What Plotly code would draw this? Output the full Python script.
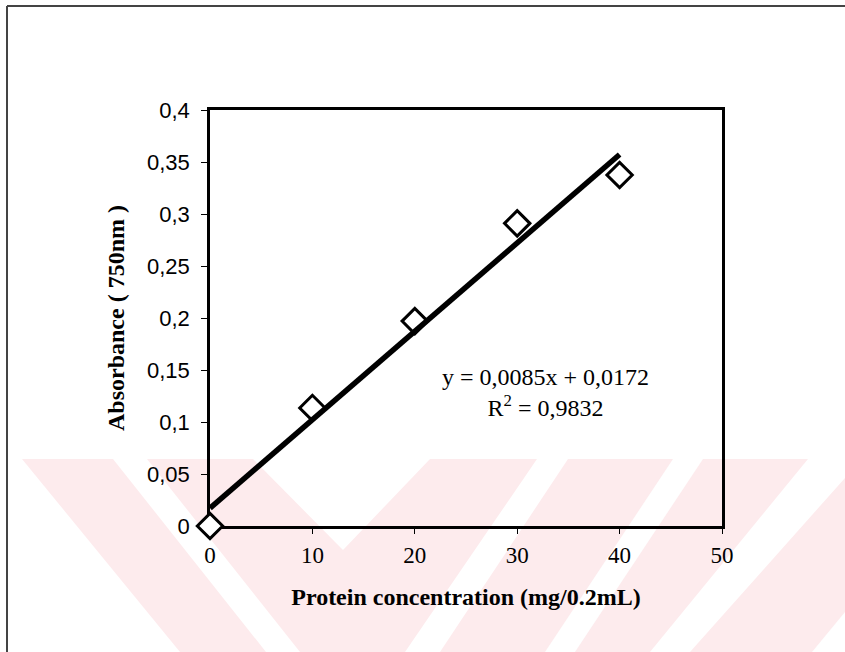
import plotly.graph_objects as go

# ---- data ----
concentration = [0, 10, 20, 30, 40]
absorbance = [0.0, 0.1135, 0.197, 0.291, 0.3375]
trend_slope = 0.0085
trend_intercept = 0.0172
equation_text = "y = 0,0085x + 0,0172<br>R<sup>2</sup> = 0,9832"
x_tickvals = [0, 10, 20, 30, 40, 50]
x_ticktext = ["0", "10", "20", "30", "40", "50"]
y_tickvals = [0, 0.05, 0.1, 0.15, 0.2, 0.25, 0.3, 0.35, 0.4]
y_ticktext = ["0", "0,05", "0,1", "0,15", "0,2", "0,25", "0,3", "0,35", "0,4"]

W, H = 845, 652
ML, MR, MT, MB = 210, 123, 110, 126
PW, PH = W - ML - MR, H - MT - MB


def px(x, y):
    return (x - ML) / PW, (H - MB - y) / PH


def path(points):
    s = ""
    for i, (x, y) in enumerate(points):
        a, b = px(x, y)
        s += ("M" if i == 0 else "L") + f"{a:.5f},{b:.5f} "
    return s + "Z"


trend_x = [min(concentration), max(concentration)]
trend_y = [trend_slope * v + trend_intercept for v in trend_x]

fig = go.Figure()
fig.add_trace(go.Scatter(
    x=concentration, y=absorbance, mode="markers",
    marker=dict(symbol="diamond", size=19.5, color="white",
                line=dict(color="black", width=3)),
    cliponaxis=False, showlegend=False, hoverinfo="x+y"))
fig.add_trace(go.Scatter(
    x=trend_x, y=trend_y, mode="lines",
    line=dict(color="black", width=5.5), showlegend=False))

pink = "#fdebed"
shapes = []
# watermark (pale pink chevrons of the scanned page)
shapes.append(dict(type="path", xref="paper", yref="paper", layer="below",
                   path=path([(0, 459), (845, 459), (845, 652), (0, 652)]),
                   fillcolor=pink, line=dict(width=0)))
whites = [
    [(0, 459), (22, 459), (180, 652), (0, 652)],
    [(113, 459), (147, 459), (300, 652), (266, 652)],
    [(253, 459), (430, 459), (343, 550)],
    [(537, 459), (568, 459), (440, 652), (405, 652)],
    [(673, 459), (703, 459), (575, 652), (545, 652)],
    [(808, 459), (845, 459), (845, 478), (690, 652), (650, 652)],
    [(812, 652), (845, 612), (845, 652)],
]
for wpts in whites:
    shapes.append(dict(type="path", xref="paper", yref="paper", layer="below",
                       path=path(wpts), fillcolor="white", line=dict(width=0)))
# page border of the scan
bx0, by0 = px(7, 6)
bx1, _ = px(845, 6)
_, by1 = px(7, 652)
shapes.append(dict(type="line", xref="paper", yref="paper", x0=bx0, x1=bx0, y0=by0, y1=by1,
                   line=dict(color="#444444", width=2)))
shapes.append(dict(type="line", xref="paper", yref="paper", x0=bx0, x1=bx1, y0=by0, y1=by0,
                   line=dict(color="#444444", width=2)))

serif = "Liberation Serif, Times New Roman, serif"
sans = "Liberation Sans, Arial, sans-serif"

fig.update_layout(
    width=W, height=H, autosize=False,
    margin=dict(l=ML, r=MR, t=MT, b=MB, pad=0),
    paper_bgcolor="white", plot_bgcolor="rgba(0,0,0,0)",
    separators=", ",
    shapes=shapes,
    xaxis=dict(range=[0, 50], tickvals=x_tickvals, ticktext=x_ticktext,
               showgrid=False, zeroline=False, showline=True, linecolor="black",
               linewidth=2.5, mirror=True, ticks="outside", ticklen=5, tickwidth=1.2,
               tickcolor="black", layer="below traces",
               tickfont=dict(family=serif, size=23, color="black"),
               ticklabelstandoff=2,
               title=dict(text="<b>Protein concentration (mg/0.2mL)</b>",
                          font=dict(family=serif, size=24, color="black"), standoff=21)),
    yaxis=dict(range=[0, 0.4], tickvals=y_tickvals, ticktext=y_ticktext,
               showgrid=False, zeroline=False, showline=True, linecolor="black",
               linewidth=2.5, mirror=True, ticks="outside", ticklen=6, tickwidth=1.2,
               tickcolor="black", layer="below traces",
               tickfont=dict(family=sans, size=22, color="black"),
               ticklabelstandoff=7,
               title=dict(text="<b>Absorbance ( 750nm )</b>",
                          font=dict(family=serif, size=24, color="black"), standoff=16)),
    annotations=[dict(x=32.8, y=0.128, xref="x", yref="y", text=equation_text,
                      showarrow=False, align="center",
                      font=dict(family=serif, size=24, color="black"))],
)

fig.write_html("out.html", config={"displayModeBar": False},
               post_script="document.body.style.margin='0px';document.body.style.overflow='hidden';")
